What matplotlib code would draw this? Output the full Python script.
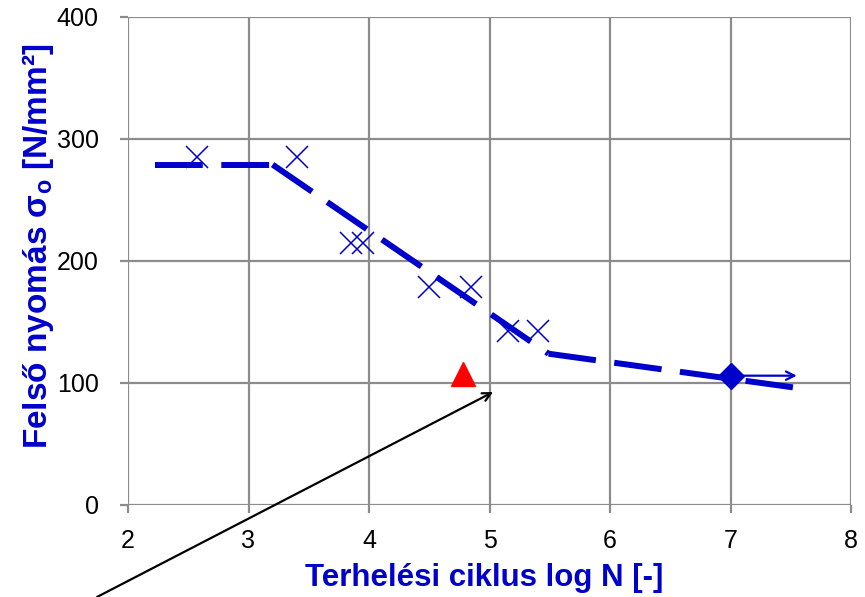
import matplotlib
matplotlib.use("Agg")
import matplotlib.pyplot as plt

plt.rcParams['font.family'] = ['Liberation Sans', 'DejaVu Sans']
plt.rcParams['mathtext.fontset'] = 'custom'
plt.rcParams['mathtext.rm'] = 'Liberation Sans:bold'

# Measured fatigue results (log N, upper stress)
test_logn = [2.57, 3.40, 3.85, 3.95, 4.50, 4.85, 5.15, 5.40]
test_sigma = [285, 285, 215, 215, 179, 179, 143, 143]

# Design curve vertices (each leg is dashed on its own)
curve_logn = [2.22, 3.20, 5.49, 7.55]
curve_sigma = [279, 279, 124, 96]

# Run-out specimen (did not fail) and its continuation arrow
runout_logn = [7.0]
runout_sigma = [106]
runout_arrow_end = 7.55

# Single comparison point
ref_logn = [4.78]
ref_sigma = [107]

# Annotation arrow tip
pointer_tip = (5.03, 92.6)

xticks = [2, 3, 4, 5, 6, 7, 8]
yticks = [0, 100, 200, 300, 400]

blue = '#0000CC'
grid_gray = '#8C8C8C'

fig = plt.figure(figsize=(8.65, 5.97), dpi=100)
ax = fig.add_axes([128 / 865, 92 / 597, 723 / 865, 488 / 597])

ax.set_xlim(2, 8)
ax.set_ylim(0, 400)
ax.set_xticks(xticks)
ax.set_yticks(yticks)
ax.grid(True, color=grid_gray, linewidth=1.6)
ax.set_axisbelow(True)
for s in ax.spines.values():
    s.set_visible(False)
ax.tick_params(axis='both', colors=grid_gray, labelcolor='black', length=6,
               width=1.6, labelsize=18, direction='out')
ax.tick_params(axis='x', pad=11)
ax.tick_params(axis='y', pad=15)

# Draw each leg of the design curve separately so the dash pattern
# restarts at every vertex
lw = 4.3
for i in range(len(curve_logn) - 1):
    seg, = ax.plot(curve_logn[i:i + 2], curve_sigma[i:i + 2], color=blue,
                   linewidth=lw, dash_capstyle='butt')
    seg.set_dashes((8, 3.1))

ax.plot(test_logn, test_sigma, linestyle='none', marker='x', markersize=16.5,
        markeredgewidth=1.1, color=blue)

ax.annotate('', xy=(runout_arrow_end, runout_sigma[0]),
            xytext=(runout_logn[0], runout_sigma[0]),
            arrowprops=dict(arrowstyle='->,head_length=0.6,head_width=0.3',
                            color=blue, lw=1.6, shrinkA=0, shrinkB=0))
ax.plot(runout_logn, runout_sigma, linestyle='none', marker='D',
        markersize=13, color=blue)

ax.plot(ref_logn, ref_sigma, linestyle='none', marker='^', markersize=17,
        color='red')

ax.annotate('', xy=pointer_tip, xycoords='data',
            xytext=(97 / 865, 0.0), textcoords='figure fraction',
            arrowprops=dict(arrowstyle='->,head_length=0.6,head_width=0.3',
                            color='black', lw=1.6, shrinkA=0, shrinkB=0),
            annotation_clip=False)

ax.set_xlabel('Terhelési ciklus log N [-]', fontsize=22.5, fontweight='bold',
              color=blue)
ax.set_ylabel(r'Felső nyomás σ$_{\rm o}$ [N/mm²]', fontsize=24,
              fontweight='bold', color=blue)
ax.xaxis.set_label_coords((484 - 128) / 723, -(578 - 505) / 488)
ax.xaxis.label.set_verticalalignment('center')
ax.yaxis.set_label_coords(-(128 - 38) / 723, (505 - 246) / 488)
ax.yaxis.label.set_verticalalignment('center')

fig.savefig('out.png', dpi=100)
